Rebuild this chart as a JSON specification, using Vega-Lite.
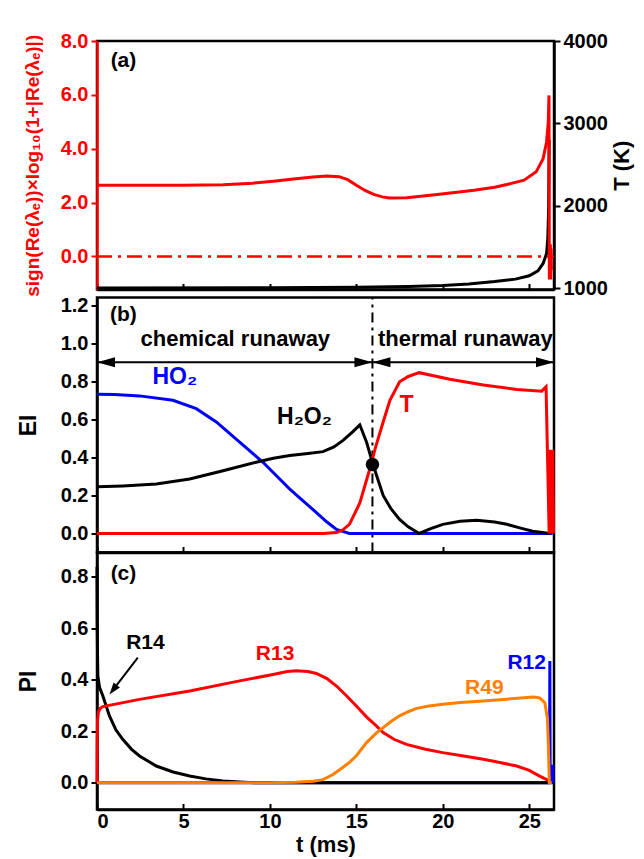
{
  "$schema": "https://vega.github.io/schema/vega-lite/v6.json",
  "padding": {"left": 15, "top": 29, "right": 5, "bottom": 2},
  "bounds": "flush",
  "spacing": 7.5,
  "config": {
    "view": {"stroke": "black", "strokeWidth": 2.5},
    "font": "Liberation Sans",
    "axis": {
      "labelFont": "Liberation Sans", "labelFontWeight": "bold", "labelFontSize": 20, "labelColor": "black",
      "titleFont": "Liberation Sans", "titleFontWeight": "bold", "titleFontSize": 22, "titleColor": "black",
      "domainColor": "black", "domainWidth": 2.5, "tickColor": "black", "tickWidth": 2, "tickSize": 6,
      "grid": false, "labelPadding": 3, "labelOverlap": false
    },
    "text": {"font": "Liberation Sans", "fontWeight": "bold"}
  },
  "datasets": {
    "lam": [
      {"t": 0, "v": 2.64}, {"t": 2, "v": 2.64}, {"t": 5, "v": 2.645}, {"t": 7.3, "v": 2.66}, {"t": 9, "v": 2.72},
      {"t": 10.2, "v": 2.79}, {"t": 11.5, "v": 2.88}, {"t": 12.5, "v": 2.95}, {"t": 13.3, "v": 2.99}, {"t": 14.0, "v": 2.96},
      {"t": 14.5, "v": 2.85}, {"t": 15.0, "v": 2.64}, {"t": 15.5, "v": 2.45}, {"t": 16.0, "v": 2.30}, {"t": 16.5, "v": 2.21},
      {"t": 16.9, "v": 2.17}, {"t": 17.9, "v": 2.18}, {"t": 19.0, "v": 2.25}, {"t": 19.8, "v": 2.31}, {"t": 21.8, "v": 2.46},
      {"t": 23.0, "v": 2.57}, {"t": 23.7, "v": 2.67}, {"t": 24.7, "v": 2.83}, {"t": 25.4, "v": 3.14}, {"t": 25.8, "v": 3.63},
      {"t": 26.0, "v": 4.25}, {"t": 26.1, "v": 5.0}, {"t": 26.14, "v": 5.98}, {"t": 26.16, "v": -0.86}, {"t": 26.18, "v": 0.45},
      {"t": 26.2, "v": -0.86}, {"t": 26.22, "v": 0.45}, {"t": 26.24, "v": -0.86}, {"t": 26.26, "v": 0.3}, {"t": 26.28, "v": -0.5}
    ],
    "temp": [
      {"t": 0, "v": 1003}, {"t": 10, "v": 1006}, {"t": 15, "v": 1010}, {"t": 18, "v": 1020}, {"t": 20, "v": 1032},
      {"t": 21.5, "v": 1050}, {"t": 23, "v": 1080}, {"t": 24.2, "v": 1110}, {"t": 25.0, "v": 1150}, {"t": 25.5, "v": 1210},
      {"t": 25.8, "v": 1300}, {"t": 26.0, "v": 1420}, {"t": 26.07, "v": 1600}, {"t": 26.12, "v": 1970}, {"t": 26.15, "v": 2800}
    ],
    "ei": [
      {"s": "HO2", "t": 0, "v": 0.732}, {"s": "HO2", "t": 1, "v": 0.73}, {"s": "HO2", "t": 2.46, "v": 0.723}, {"s": "HO2", "t": 4.39, "v": 0.70},
      {"s": "HO2", "t": 5.74, "v": 0.656}, {"s": "HO2", "t": 6.9, "v": 0.586}, {"s": "HO2", "t": 8.25, "v": 0.48}, {"s": "HO2", "t": 9.6, "v": 0.374},
      {"s": "HO2", "t": 11.15, "v": 0.233}, {"s": "HO2", "t": 12.0, "v": 0.165}, {"s": "HO2", "t": 12.69, "v": 0.11}, {"s": "HO2", "t": 13.3, "v": 0.06},
      {"s": "HO2", "t": 13.85, "v": 0.021}, {"s": "HO2", "t": 14.6, "v": 0.0}, {"s": "HO2", "t": 20, "v": 0.0}, {"s": "HO2", "t": 26.35, "v": 0.0},
      {"s": "H2O2", "t": 0, "v": 0.245}, {"s": "H2O2", "t": 1.5, "v": 0.25}, {"s": "H2O2", "t": 3.43, "v": 0.26}, {"s": "H2O2", "t": 5.36, "v": 0.286},
      {"s": "H2O2", "t": 7.29, "v": 0.33}, {"s": "H2O2", "t": 9.2, "v": 0.374}, {"s": "H2O2", "t": 10.2, "v": 0.395}, {"s": "H2O2", "t": 11.15, "v": 0.41},
      {"s": "H2O2", "t": 12.2, "v": 0.42}, {"s": "H2O2", "t": 13.07, "v": 0.43}, {"s": "H2O2", "t": 13.7, "v": 0.455}, {"s": "H2O2", "t": 14.23, "v": 0.489},
      {"s": "H2O2", "t": 14.8, "v": 0.535}, {"s": "H2O2", "t": 15.2, "v": 0.571}, {"s": "H2O2", "t": 15.59, "v": 0.48}, {"s": "H2O2", "t": 15.97, "v": 0.36},
      {"s": "H2O2", "t": 16.55, "v": 0.2}, {"s": "H2O2", "t": 17.0, "v": 0.13}, {"s": "H2O2", "t": 17.5, "v": 0.074}, {"s": "H2O2", "t": 18.0, "v": 0.035},
      {"s": "H2O2", "t": 18.63, "v": 0.0}, {"s": "H2O2", "t": 19.3, "v": 0.025}, {"s": "H2O2", "t": 20.0, "v": 0.048}, {"s": "H2O2", "t": 21.0, "v": 0.064},
      {"s": "H2O2", "t": 21.96, "v": 0.069}, {"s": "H2O2", "t": 23.0, "v": 0.06}, {"s": "H2O2", "t": 23.7, "v": 0.048}, {"s": "H2O2", "t": 24.5, "v": 0.028},
      {"s": "H2O2", "t": 25.2, "v": 0.012}, {"s": "H2O2", "t": 26.2, "v": 0.0},
      {"s": "T", "t": 0, "v": 0}, {"s": "T", "t": 13.07, "v": 0}, {"s": "T", "t": 13.85, "v": 0.005}, {"s": "T", "t": 14.2, "v": 0.018},
      {"s": "T", "t": 14.6, "v": 0.048}, {"s": "T", "t": 15.2, "v": 0.16}, {"s": "T", "t": 15.78, "v": 0.34}, {"s": "T", "t": 16.1, "v": 0.45},
      {"s": "T", "t": 16.55, "v": 0.586}, {"s": "T", "t": 16.94, "v": 0.70}, {"s": "T", "t": 17.5, "v": 0.797}, {"s": "T", "t": 18.0, "v": 0.825},
      {"s": "T", "t": 18.63, "v": 0.845}, {"s": "T", "t": 20.4, "v": 0.81}, {"s": "T", "t": 22.34, "v": 0.78}, {"s": "T", "t": 24.27, "v": 0.757},
      {"s": "T", "t": 25.72, "v": 0.748}, {"s": "T", "t": 25.97, "v": 0.771}, {"s": "T", "t": 26.15, "v": 0.0}, {"s": "T", "t": 26.2, "v": 0.44},
      {"s": "T", "t": 26.24, "v": 0.0}, {"s": "T", "t": 26.28, "v": 0.44}, {"s": "T", "t": 26.32, "v": 0.0}, {"s": "T", "t": 26.36, "v": 0.44}, {"s": "T", "t": 26.4, "v": 0.0}
    ],
    "pi": [
      {"s": "R14", "t": 0, "v": 0.84}, {"s": "R14", "t": 0.01, "v": 0.65}, {"s": "R14", "t": 0.03, "v": 0.5}, {"s": "R14", "t": 0.05, "v": 0.415},
      {"s": "R14", "t": 0.15, "v": 0.37}, {"s": "R14", "t": 0.34, "v": 0.337}, {"s": "R14", "t": 0.72, "v": 0.26}, {"s": "R14", "t": 1.1, "v": 0.205},
      {"s": "R14", "t": 1.5, "v": 0.168}, {"s": "R14", "t": 2.0, "v": 0.13}, {"s": "R14", "t": 2.46, "v": 0.104}, {"s": "R14", "t": 3.43, "v": 0.065},
      {"s": "R14", "t": 4.4, "v": 0.042}, {"s": "R14", "t": 5.36, "v": 0.026}, {"s": "R14", "t": 6.3, "v": 0.015}, {"s": "R14", "t": 7.29, "v": 0.007},
      {"s": "R14", "t": 8.5, "v": 0.002}, {"s": "R14", "t": 9.2, "v": 0.0}, {"s": "R14", "t": 26.2, "v": 0.0},
      {"s": "R13", "t": 0, "v": 0}, {"s": "R13", "t": 0.01, "v": 0.15}, {"s": "R13", "t": 0.03, "v": 0.24}, {"s": "R13", "t": 0.08, "v": 0.275},
      {"s": "R13", "t": 0.2, "v": 0.29}, {"s": "R13", "t": 0.34, "v": 0.296}, {"s": "R13", "t": 2.46, "v": 0.324}, {"s": "R13", "t": 5.36, "v": 0.357},
      {"s": "R13", "t": 8.25, "v": 0.396}, {"s": "R13", "t": 10.18, "v": 0.421}, {"s": "R13", "t": 11.0, "v": 0.432}, {"s": "R13", "t": 11.53, "v": 0.435},
      {"s": "R13", "t": 12.2, "v": 0.432}, {"s": "R13", "t": 12.69, "v": 0.425}, {"s": "R13", "t": 13.3, "v": 0.405}, {"s": "R13", "t": 13.85, "v": 0.376},
      {"s": "R13", "t": 14.4, "v": 0.34}, {"s": "R13", "t": 15.0, "v": 0.298}, {"s": "R13", "t": 15.6, "v": 0.255}, {"s": "R13", "t": 16.17, "v": 0.22},
      {"s": "R13", "t": 16.55, "v": 0.195}, {"s": "R13", "t": 17.2, "v": 0.168}, {"s": "R13", "t": 17.9, "v": 0.149}, {"s": "R13", "t": 19.0, "v": 0.13},
      {"s": "R13", "t": 20.0, "v": 0.117}, {"s": "R13", "t": 21.2, "v": 0.104}, {"s": "R13", "t": 22.34, "v": 0.091}, {"s": "R13", "t": 23.3, "v": 0.079},
      {"s": "R13", "t": 24.27, "v": 0.065}, {"s": "R13", "t": 25.0, "v": 0.048}, {"s": "R13", "t": 25.6, "v": 0.026}, {"s": "R13", "t": 26.16, "v": 0.007},
      {"s": "R49", "t": 0, "v": 0}, {"s": "R49", "t": 10, "v": 0.0}, {"s": "R49", "t": 11.5, "v": 0.002}, {"s": "R49", "t": 12.5, "v": 0.006},
      {"s": "R49", "t": 13.07, "v": 0.012}, {"s": "R49", "t": 13.65, "v": 0.032}, {"s": "R49", "t": 14.23, "v": 0.06}, {"s": "R49", "t": 14.62, "v": 0.08},
      {"s": "R49", "t": 15.0, "v": 0.105}, {"s": "R49", "t": 15.59, "v": 0.156}, {"s": "R49", "t": 16.1, "v": 0.19}, {"s": "R49", "t": 16.55, "v": 0.214},
      {"s": "R49", "t": 17.0, "v": 0.238}, {"s": "R49", "t": 17.5, "v": 0.26}, {"s": "R49", "t": 18.0, "v": 0.276}, {"s": "R49", "t": 18.48, "v": 0.289},
      {"s": "R49", "t": 19.2, "v": 0.298}, {"s": "R49", "t": 20.0, "v": 0.305}, {"s": "R49", "t": 21.0, "v": 0.312}, {"s": "R49", "t": 22.34, "v": 0.318},
      {"s": "R49", "t": 23.5, "v": 0.324}, {"s": "R49", "t": 24.5, "v": 0.329}, {"s": "R49", "t": 25.23, "v": 0.333}, {"s": "R49", "t": 25.6, "v": 0.33},
      {"s": "R49", "t": 25.9, "v": 0.311}, {"s": "R49", "t": 26.05, "v": 0.25}, {"s": "R49", "t": 26.1, "v": 0.156}, {"s": "R49", "t": 26.16, "v": 0.0},
      {"s": "R49", "t": 26.3, "v": 0.0},
      {"s": "R12", "t": 0, "v": 0}, {"s": "R12", "t": 26.17, "v": 0}, {"s": "R12", "t": 26.19, "v": 0.473}, {"s": "R12", "t": 26.21, "v": 0.0},
      {"s": "R12", "t": 26.3, "v": 0.0}, {"s": "R12", "t": 26.32, "v": 0.07}, {"s": "R12", "t": 26.34, "v": 0.0}, {"s": "R12", "t": 26.36, "v": 0.07},
      {"s": "R12", "t": 26.38, "v": 0.0}
    ]
  },
  "vconcat": [
    {
      "width": 457,
      "height": 248.5,
      "encoding": {
        "x": {"field": "t", "type": "quantitative", "scale": {"domain": [0, 26.43], "nice": false, "zero": false},
              "axis": {"labels": false, "title": null, "values": [0, 5, 10, 15, 20, 25], "tickSize": -6}}
      },
      "layer": [
        {
          "data": {"name": "temp"},
          "mark": {"type": "line", "color": "black", "strokeWidth": 3},
          "encoding": {
            "y": {"field": "v", "type": "quantitative", "scale": {"domain": [984, 4000], "nice": false, "zero": false},
                  "axis": {"orient": "right", "values": [1000, 2000, 3000, 4000], "format": "d", "title": "T (K)", "titleAngle": -90, "titleBaseline": "top", "titlePadding": 4}}
          }
        },
        {
          "encoding": {
            "y": {"field": "v", "type": "quantitative", "scale": {"domain": [-1.23, 8], "nice": false, "zero": false},
                  "axis": {"orient": "left", "values": [0, 2, 4, 6, 8], "format": ".1f", "title": "sign(Re(λₑ))×log₁₀(1+|Re(λₑ)|)",
                           "titleColor": "#ff0000", "titleFontSize": 19, "labelColor": "#ff0000", "domainColor": "#ff0000", "tickColor": "#ff0000", "titlePadding": 18}}
          },
          "layer": [
            {
              "data": {"values": [{"t": 0, "t2": 26.43, "v": 0}]},
              "mark": {"type": "rule", "color": "#ff0000", "strokeWidth": 2.5, "strokeDash": [15, 6, 3, 6]},
              "encoding": {"x2": {"field": "t2"}}
            },
            {
              "data": {"name": "lam"},
              "mark": {"type": "line", "color": "#ff0000", "strokeWidth": 3}
            },
            {
              "data": {"values": [{"t": 1.53, "v": 7.25, "label": "(a)"}]},
              "mark": {"type": "text", "color": "black", "fontSize": 21, "align": "center", "baseline": "middle"},
              "encoding": {"text": {"field": "label"}}
            }
          ]
        }
      ],
      "resolve": {"scale": {"y": "independent"}}
    },
    {
      "vconcat": [
        {
          "width": 457,
          "height": 255,
          "encoding": {
            "x": {"field": "t", "type": "quantitative", "scale": {"domain": [0, 26.43], "nice": false, "zero": false},
                  "axis": {"labels": false, "title": null, "values": [0, 5, 10, 15, 20, 25], "tickSize": -6}},
            "y": {"field": "v", "type": "quantitative", "scale": {"domain": [-0.1, 1.24], "nice": false, "zero": false},
                  "axis": {"values": [0, 0.2, 0.4, 0.6, 0.8, 1.0, 1.2], "format": ".1f", "title": "EI", "titleFontSize": 23, "titlePadding": 20}}
          },
          "layer": [
            {
              "data": {"values": [{"t": 15.93, "v": -0.1, "v2": 1.24}]},
              "mark": {"type": "rule", "color": "black", "strokeWidth": 2, "strokeDash": [10, 5, 3, 5]},
              "encoding": {"y2": {"field": "v2"}}
            },
            {
              "data": {"values": [{"t": 0, "t2": 15.93, "v": 0.9}, {"t": 15.93, "t2": 26.43, "v": 0.9}]},
              "mark": {"type": "rule", "color": "black", "strokeWidth": 2},
              "encoding": {"x2": {"field": "t2"}}
            },
            {
              "data": {"values": [{"t": 15.93, "v": 0.9}, {"t": 26.43, "v": 0.9}]},
              "mark": {"type": "point", "shape": "M0,0L-3.6,-1L-3.6,1Z", "filled": true, "color": "black", "size": 100, "opacity": 1}
            },
            {
              "data": {"values": [{"t": 0, "v": 0.9}, {"t": 15.93, "v": 0.9}]},
              "mark": {"type": "point", "shape": "M0,0L3.6,-1L3.6,1Z", "filled": true, "color": "black", "size": 100, "opacity": 1}
            },
            {
              "data": {"name": "ei"},
              "transform": [{"filter": "datum.s === 'HO2'"}],
              "mark": {"type": "line", "color": "#0000ff", "strokeWidth": 3}
            },
            {
              "data": {"name": "ei"},
              "transform": [{"filter": "datum.s === 'H2O2'"}],
              "mark": {"type": "line", "color": "black", "strokeWidth": 3}
            },
            {
              "data": {"name": "ei"},
              "transform": [{"filter": "datum.s === 'T'"}],
              "mark": {"type": "line", "color": "#ff0000", "strokeWidth": 3}
            },
            {
              "data": {"values": [{"t": 15.93, "v": 0.362}]},
              "mark": {"type": "point", "shape": "circle", "filled": true, "color": "black", "size": 180, "opacity": 1}
            },
            {
              "data": {"values": [{"t": 1.53, "v": 1.147, "label": "(b)"}]},
              "mark": {"type": "text", "color": "black", "fontSize": 21, "align": "center", "baseline": "middle"},
              "encoding": {"text": {"field": "label"}}
            },
            {
              "data": {"values": [{"t": 8.0, "v": 1.02, "label": "chemical runaway"}, {"t": 21.3, "v": 1.02, "label": "thermal runaway"}]},
              "mark": {"type": "text", "color": "black", "fontSize": 22, "align": "center", "baseline": "middle"},
              "encoding": {"text": {"field": "label"}}
            },
            {
              "data": {"values": [{"t": 12.0, "v": 0.61, "label": "H₂O₂"}]},
              "mark": {"type": "text", "color": "black", "fontSize": 23, "align": "center", "baseline": "middle"},
              "encoding": {"text": {"field": "label"}}
            },
            {
              "data": {"values": [{"t": 4.5, "v": 0.82, "label": "HO₂"}]},
              "mark": {"type": "text", "color": "#0000ff", "fontSize": 23, "align": "center", "baseline": "middle"},
              "encoding": {"text": {"field": "label"}}
            },
            {
              "data": {"values": [{"t": 17.9, "v": 0.675, "label": "T"}]},
              "mark": {"type": "text", "color": "#ff0000", "fontSize": 23, "align": "center", "baseline": "middle"},
              "encoding": {"text": {"field": "label"}}
            }
          ]
        },
        {
          "width": 457,
          "height": 257,
          "encoding": {
            "x": {"field": "t", "type": "quantitative", "scale": {"domain": [0, 26.43], "nice": false, "zero": false},
                  "axis": {"title": "t (ms)", "values": [0, 5, 10, 15, 20, 25], "tickSize": -6, "labelPadding": 8, "titlePadding": 3}},
            "y": {"field": "v", "type": "quantitative", "scale": {"domain": [-0.104, 0.895], "nice": false, "zero": false},
                  "axis": {"values": [0, 0.2, 0.4, 0.6, 0.8], "format": ".1f", "title": "PI", "titleFontSize": 23, "titlePadding": 20}}
          },
          "layer": [
            {
              "data": {"name": "pi"},
              "transform": [{"filter": "datum.s === 'R12'"}],
              "mark": {"type": "line", "color": "#0000ff", "strokeWidth": 3}
            },
            {
              "data": {"name": "pi"},
              "transform": [{"filter": "datum.s === 'R14'"}],
              "mark": {"type": "line", "color": "black", "strokeWidth": 3}
            },
            {
              "data": {"name": "pi"},
              "transform": [{"filter": "datum.s === 'R13'"}],
              "mark": {"type": "line", "color": "#ff0000", "strokeWidth": 3}
            },
            {
              "data": {"name": "pi"},
              "transform": [{"filter": "datum.s === 'R49'"}],
              "mark": {"type": "line", "color": "#ff8000", "strokeWidth": 3}
            },
            {
              "data": {"values": [{"t": 2.36, "v": 0.486}, {"t": 0.95, "v": 0.363}]},
              "mark": {"type": "line", "color": "black", "strokeWidth": 2}
            },
            {
              "data": {"values": [{"t": 0.72, "v": 0.343}]},
              "mark": {"type": "point", "shape": "M0,0L-6,-2L-6,2Z", "filled": true, "color": "black", "size": 16, "opacity": 1, "angle": 127.6}
            },
            {
              "data": {"values": [{"t": 1.53, "v": 0.813, "label": "(c)"}, {"t": 2.8, "v": 0.545, "label": "R14"}]},
              "mark": {"type": "text", "color": "black", "fontSize": 21, "align": "center", "baseline": "middle"},
              "encoding": {"text": {"field": "label"}}
            },
            {
              "data": {"values": [{"t": 10.3, "v": 0.5, "label": "R13"}]},
              "mark": {"type": "text", "color": "#ff0000", "fontSize": 21, "align": "center", "baseline": "middle"},
              "encoding": {"text": {"field": "label"}}
            },
            {
              "data": {"values": [{"t": 22.4, "v": 0.37, "label": "R49"}]},
              "mark": {"type": "text", "color": "#ff8000", "fontSize": 21, "align": "center", "baseline": "middle"},
              "encoding": {"text": {"field": "label"}}
            },
            {
              "data": {"values": [{"t": 24.85, "v": 0.467, "label": "R12"}]},
              "mark": {"type": "text", "color": "#0000ff", "fontSize": 21, "align": "center", "baseline": "middle"},
              "encoding": {"text": {"field": "label"}}
            }
          ]
        }
      ],
      "spacing": 0,
      "bounds": "flush"
    }
  ]
}
